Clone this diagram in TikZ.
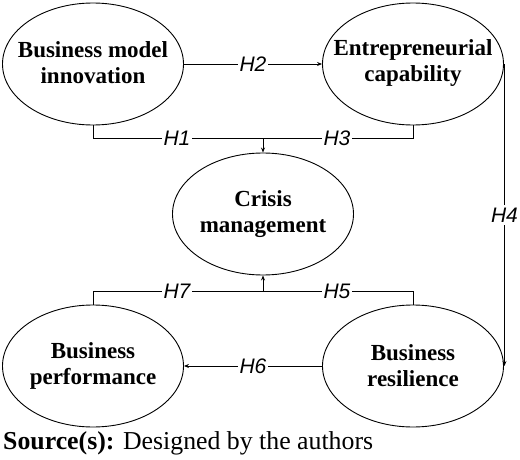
\documentclass[tikz,border=0pt]{standalone}
\usepackage{fontspec}
\setmainfont{Liberation Serif}
\newfontfamily\hfont{Liberation Sans}
\usetikzlibrary{shapes.geometric,arrows.meta}
\begin{document}
\begin{tikzpicture}[x=1pt,y=-1pt,
  ell/.style={draw,ellipse,line width=0.9pt,inner sep=0pt,minimum width=181pt,minimum height=122pt},
  txt/.style={align=center,inner sep=0pt,font=\fontsize{23}{26}\selectfont\bfseries},
  con/.style={line width=0.9pt},
  arr/.style={con,-{Stealth[length=5pt,width=4pt]}},
  hyp/.style={fill=white,inner xsep=1.5pt,inner ysep=2.5pt,font=\fontsize{21}{22}\selectfont\hfont\itshape}]
\useasboundingbox (0,0) rectangle (520,460);
\node[ell] (bmi) at (93,64) {};
\node[ell] (ec) at (413,64) {};
\node[ell] (cm) at (263,214) {};
\node[ell] (bp) at (93,366) {};
\node[ell] (br) at (413,366) {};
\node[txt] (bmit) at (93,63) {Business model\\innovation};
\node[txt] (ect) at (413,63) {Entrepreneurial\\capability};
\node[txt] (cmt) at (263,214) {Crisis\\management};
\node[txt] (bpt) at (93,366) {Business\\performance};
\node[txt] (brt) at (413,366) {Business\\resilience};
\coordinate (top) at (263,138);
\coordinate (bot) at (263,291);
% H2
\draw[arr] (bmi.east) -- node[hyp] {H2} (ec.west);
% H1 / H3
\draw[con] (bmi.south) -- (bmi.south |- top) -- (ec.south |- top) -- (ec.south);
\node[hyp] (h1) at (177,138) {H1};
\node[hyp] (h3) at (337,138) {H3};
\draw[arr] (top) -- (cm.north);
% H4
\draw[arr] ([xshift=0.5pt]ec.east) -- node[hyp,pos=0.5] {H4} ([xshift=0.5pt]br.east);
% H7 / H5
\draw[con] (bp.north) -- (bp.north |- bot) -- (br.north |- bot) -- (br.north);
\node[hyp] (h7) at (177,291) {H7};
\node[hyp] (h5) at (337,291) {H5};
\draw[arr] (bot) -- (cm.south);
% H6
\draw[arr] (br.west) -- node[hyp] {H6} (bp.east);
% Source
\node[anchor=base west,inner sep=0pt,font=\fontsize{25.8}{27}\selectfont] (src) at (3,449)
  {\textbf{Source(s):} Designed by the authors};
\end{tikzpicture}
\end{document}
